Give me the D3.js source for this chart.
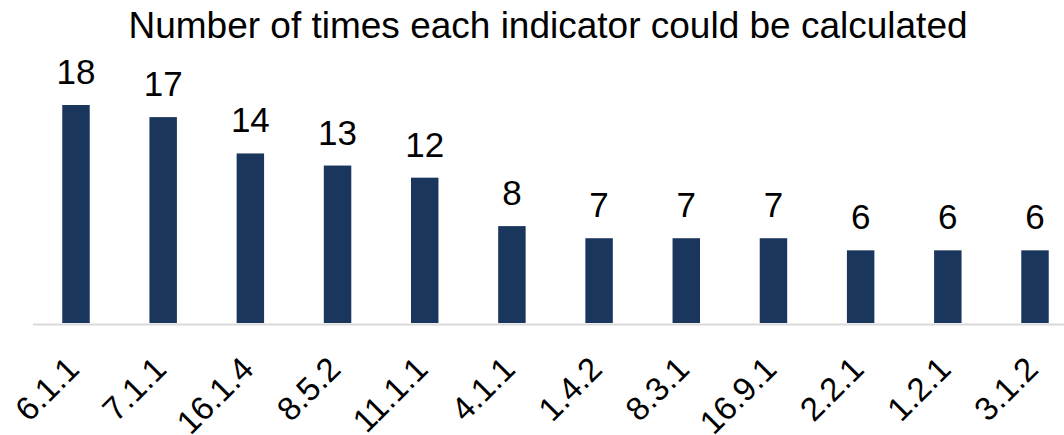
<!DOCTYPE html>
<html>
<head>
<meta charset="utf-8">
<script src="https://cdn.jsdelivr.net/npm/d3@7"></script>
<style>
  body { margin: 0; background: #fff; }
  svg { display: block; font-family: "Liberation Sans", Arial, sans-serif; }
</style>
</head>
<body>
<svg id="chart"></svg>
<script>
// chart data
var indicators = ["6.1.1", "7.1.1", "16.1.4", "8.5.2", "11.1.1", "4.1.1", "1.4.2", "8.3.1", "16.9.1", "2.2.1", "1.2.1", "3.1.2"];
var counts = [18, 17, 14, 13, 12, 8, 7, 7, 7, 6, 6, 6];
var chartTitle = "Number of times each indicator could be calculated";

var width = 1064, height = 435;
var baseY = 323;

var svg = d3.select("#chart")
            .attr("width", width)
            .attr("height", height);

var rows = indicators.map((d, i) => ({ name: d, value: counts[i] }));

var xScale = d3.scaleBand()
               .domain(indicators)
               .range([32.4, 1078.6])
               .paddingInner(0.685)
               .paddingOuter(0.3425);

var yScale = d3.scaleLinear()
               .domain([0, 18])
               .range([baseY, 105]);

//Title
svg.append("text")
   .attr("x", 548)
   .attr("y", 38)
   .attr("text-anchor", "middle")
   .style("font-size", "37px")
   .attr("fill", "#000")
   .text(chartTitle);

//Bars
svg.selectAll(".bar")
   .data(rows)
   .enter()
   .append("rect")
     .classed("bar", true)
     .attr("x", d => xScale(d.name))
     .attr("width", xScale.bandwidth())
     .attr("y", d => yScale(d.value))
     .attr("height", d => baseY - yScale(d.value))
     .attr("fill", "#1b365d");

//Value labels above bars
svg.selectAll(".val")
   .data(rows)
   .enter()
   .append("text")
     .classed("val", true)
     .attr("x", d => xScale(d.name) + xScale.bandwidth() / 2)
     .attr("y", d => yScale(d.value) - 21)
     .attr("text-anchor", "middle")
     .style("font-size", "35px")
     .attr("fill", "#000")
     .text(d => d.value);

//x axis: grey line, no ticks, rotated labels
var xAxis = d3.axisBottom(xScale).tickSize(0).tickPadding(0);
var gx = svg.append("g")
            .attr("class", "x-axis")
            .attr("transform", "translate(0," + (baseY + 1) + ")")
            .call(xAxis);

gx.select(".domain")
  .attr("stroke", "#d9d9d9")
  .attr("stroke-width", 2);

gx.selectAll(".tick text")
  .style("font-size", "33px")
  .style("font-family", "Liberation Sans, Arial, sans-serif")
  .attr("fill", "#000")
  .style("text-anchor", "end")
  .attr("dy", 0)
  .attr("transform", "translate(5,47) rotate(-45)");
</script>
</body>
</html>
